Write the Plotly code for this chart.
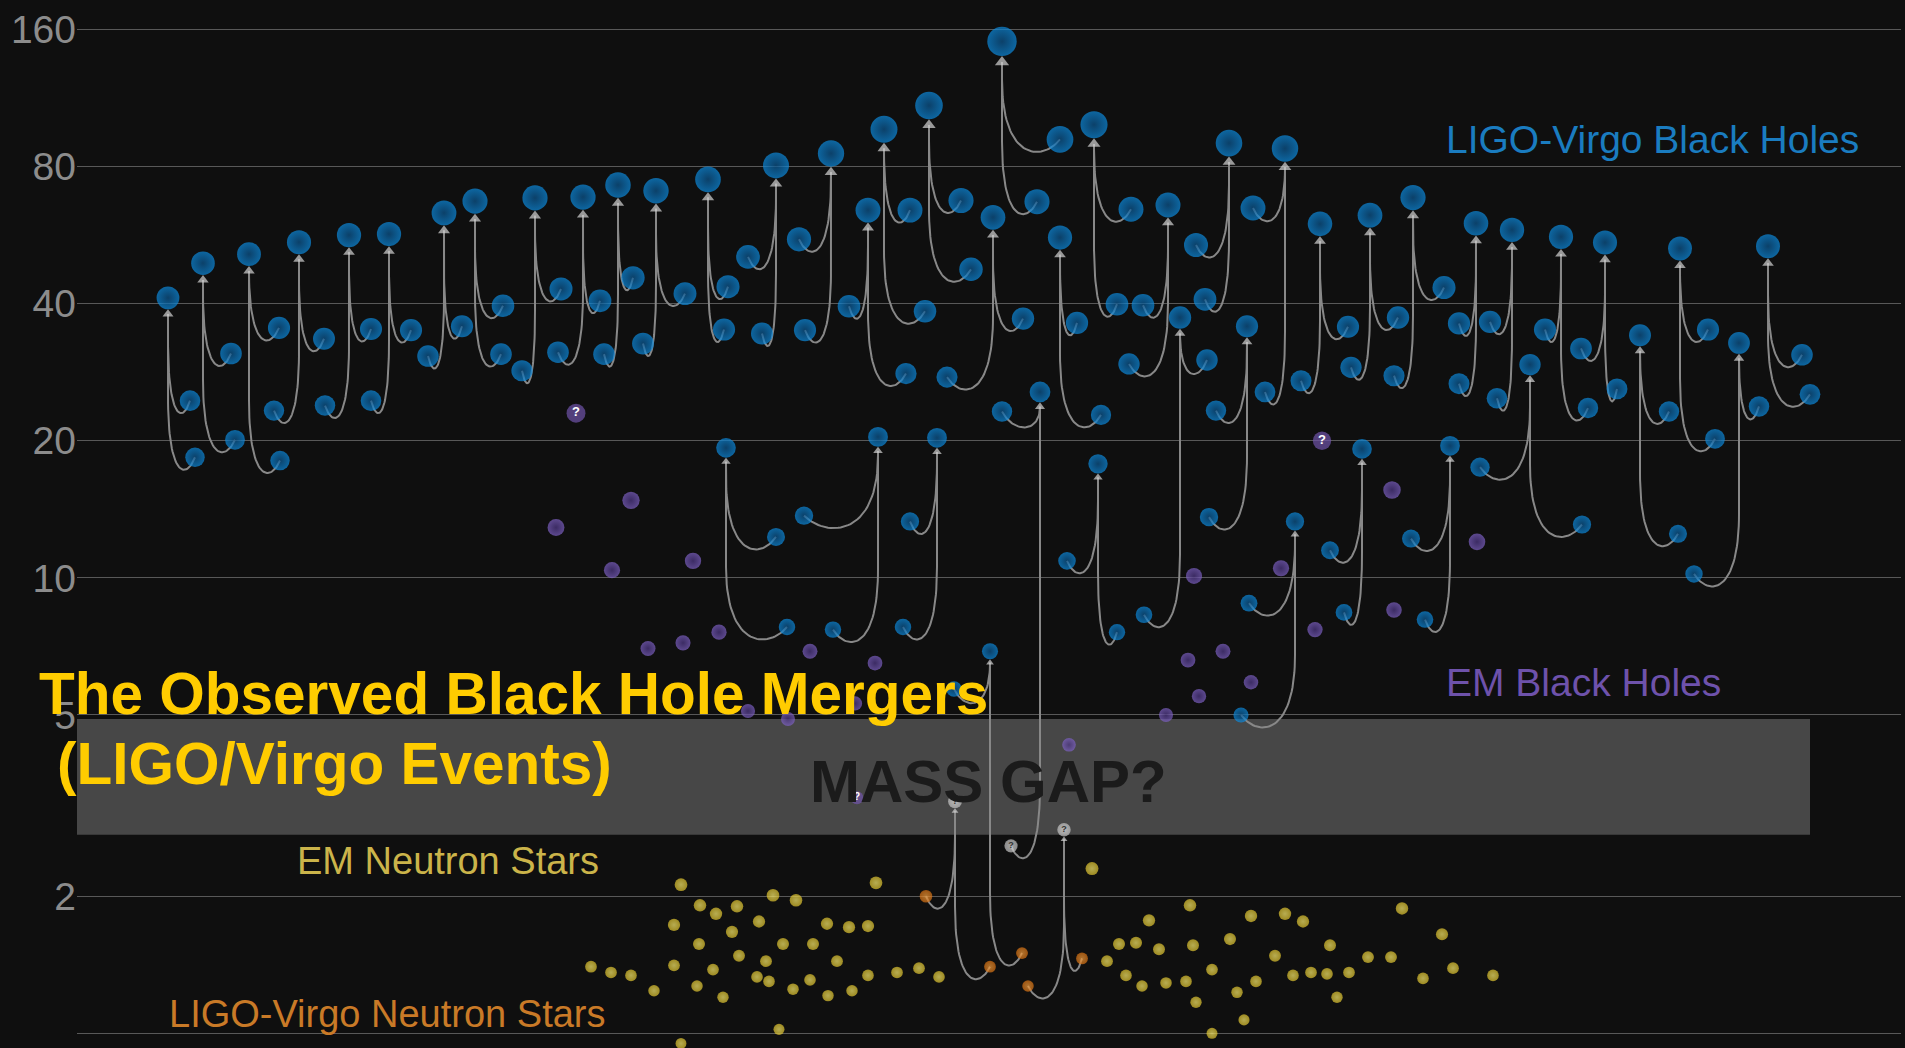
import numpy as np
import plotly.graph_objects as go

# ---------------- data (masses in solar masses; x = position slot along the row) ----------------
# LIGO-Virgo binary black hole mergers: remnant and two components
bbh_rem_x = [168, 203, 249, 299, 349, 389, 444, 475, 535, 583, 618, 656, 708, 776, 831, 868, 884, 929, 993, 1002,
             1060, 1094, 1168, 1180, 1229, 1247, 1285, 1320, 1370, 1413, 1476, 1512, 1561, 1605, 1680, 1768, 1530, 1640, 1739, 1362,
             1450, 1295, 1098, 878, 937, 726]
bbh_rem_m = [41.2, 49.1, 51.4, 54.6, 56.6, 56.9, 63.3, 67.2, 68.3, 68.6, 72.9, 70.8, 75.0, 80.5, 85.5, 64.2, 96.6, 109.0, 61.9, 150.7,
             55.9, 98.9, 65.9, 37.3, 90.1, 35.7, 87.7, 59.9, 62.6, 68.4, 60.1, 58.1, 56.1, 54.5, 52.9, 53.5, 29.4, 34.1, 32.8, 19.2,
             19.5, 13.3, 17.8, 20.4, 20.3, 19.3]
bbh_c1_x = [190, 231, 279, 324, 371, 411, 462, 503, 561, 600, 633, 685, 728, 748, 799, 849, 910, 961, 1023, 1060,
            1077, 1131, 1143, 1207, 1196, 1216, 1253, 1348, 1398, 1444, 1459, 1490, 1545, 1581, 1708, 1802, 1480, 1669, 1759, 1330,
            1411, 1249, 1067, 804, 910, 776]
bbh_c1_m = [24.5, 31.1, 35.4, 33.5, 35.2, 35.0, 35.7, 39.6, 43.1, 40.6, 45.6, 42.1, 43.6, 50.7, 55.4, 39.5, 64.2, 67.4, 37.1, 91.8,
            36.3, 64.5, 39.7, 30.1, 53.8, 23.3, 64.9, 35.6, 37.3, 43.4, 36.2, 36.5, 35.1, 31.9, 35.1, 30.9, 17.5, 23.2, 23.8, 11.5,
            12.2, 8.8, 10.9, 13.7, 13.3, 12.3]
bbh_c2_x = [195, 235, 280, 274, 325, 371, 428, 501, 522, 558, 604, 643, 724, 762, 805, 906, 925, 971, 947, 1037,
            1101, 1117, 1129, 1144, 1205, 1209, 1265, 1301, 1351, 1394, 1459, 1497, 1588, 1617, 1715, 1810, 1582, 1678, 1694, 1344,
            1425, 1241, 1117, 833, 903, 787]
bbh_c2_m = [18.4, 20.1, 18.1, 23.3, 23.9, 24.5, 30.7, 31.0, 28.5, 31.3, 31.0, 32.7, 35.1, 34.4, 35.0, 28.1, 38.5, 47.6, 27.6, 67.0,
            22.8, 39.9, 29.5, 8.3, 40.9, 13.6, 25.6, 27.1, 29.0, 27.8, 26.7, 24.8, 23.6, 26.0, 20.2, 25.3, 13.1, 12.5, 10.2, 8.4,
            8.1, 5.0, 7.6, 7.7, 7.8, 7.8]

# mergers of a black hole with a light (neutron star / mass-gap) companion
nsbh_rem_x = [1040, 990]
nsbh_rem_m = [25.6, 6.9]
nsbh_bh_x = [1002, 954]
nsbh_bh_m = [23.2, 5.7]
nsbh_lt_x = [1011, 1022]
nsbh_lt_m = [2.58, 1.5]
nsbh_lt_gap = [True, False]

# binary neutron star mergers (remnant of uncertain nature)
bns_rem_x = [955, 1064]
bns_rem_m = [3.23, 2.8]
bns_c1_x = [926, 1028]
bns_c1_m = [2.0, 1.27]
bns_c2_x = [990, 1082]
bns_c2_m = [1.40, 1.46]

# electromagnetically observed black holes
em_bh_x = [556, 631, 612, 693, 719, 683, 648, 810, 875, 748, 788, 855, 1069, 1194, 1188, 1223, 1251, 1199, 1166, 1392,
           1477, 1281, 1394, 1315]
em_bh_m = [12.9, 14.8, 10.4, 10.9, 7.6, 7.2, 7.0, 6.9, 6.5, 5.1, 4.9, 5.3, 4.3, 10.1, 6.6, 6.9, 5.9, 5.5, 5.0, 15.6,
           12.0, 10.5, 8.5, 7.7]
em_bh_q_x = [576, 857, 1322]
em_bh_q_m = [23.0, 3.29, 20.0]

# electromagnetically observed neutron stars
em_ns_x = [591, 611, 631, 654, 674, 674, 681, 681, 697, 699, 700, 713, 716, 723, 732, 737, 739, 757, 759, 766,
           769, 773, 779, 783, 793, 796, 810, 813, 827, 828, 837, 849, 852, 868, 868, 876, 897, 919, 939, 1092,
           1107, 1119, 1126, 1136, 1142, 1149, 1159, 1166, 1186, 1190, 1193, 1196, 1212, 1212, 1230, 1237, 1244, 1251, 1256, 1275,
           1285, 1293, 1303, 1311, 1327, 1330, 1337, 1349, 1368, 1391, 1402, 1423, 1442, 1453, 1493]
em_ns_m = [1.40, 1.36, 1.34, 1.24, 1.41, 1.73, 2.12, 0.95, 1.27, 1.57, 1.91, 1.38, 1.83, 1.20, 1.67, 1.90, 1.48, 1.33, 1.76, 1.44,
           1.30, 2.01, 1.02, 1.57, 1.25, 1.96, 1.31, 1.57, 1.74, 1.21, 1.44, 1.71, 1.24, 1.72, 1.34, 2.14, 1.36, 1.39, 1.33, 2.30,
           1.44, 1.57, 1.34, 1.58, 1.27, 1.77, 1.53, 1.29, 1.30, 1.91, 1.56, 1.17, 1.38, 1.00, 1.61, 1.23, 1.07, 1.81, 1.30, 1.48,
           1.83, 1.34, 1.76, 1.36, 1.35, 1.56, 1.20, 1.36, 1.47, 1.47, 1.88, 1.32, 1.65, 1.39, 1.34]

tick_vals = [1, 2, 5, 10, 20, 40, 80, 160]
tick_text = ["1", "2", "5", "10", "20", "40", "80", "160"]
gap_low, gap_high = 2.73, 4.9

# ---------------- layout geometry ----------------
W, H = 1905, 1048
ML, MR = 77, 4
X_RANGE = [77, 1901]
Y_RANGE = [-0.0323, 2.269]
PX = H / (Y_RANGE[1] - Y_RANGE[0]) * np.log10(2)   # pixels per doubling of mass

FONT = "Liberation Sans, Arial, Helvetica, sans-serif"
SIZE_K = 11.0


def msize(m, k=1.0):
    return list(k * SIZE_K * np.asarray(m, dtype=float) ** 0.196)


line_x, line_y = [], []
arrow_x, arrow_y, arrow_s = [], [], []


def add_merger(xr, mr, comps):
    sr = SIZE_K * mr ** 0.196
    a_s = max(6.0, 0.42 * sr)
    ya = np.log2(mr) * PX - (sr / 2 + 0.5 * a_s)
    arrow_x.append(xr)
    arrow_y.append(2 ** (ya / PX))
    arrow_s.append(a_s)
    t = np.linspace(0, 1, 40)
    for xc, mc in comps:
        yc = np.log2(mc) * PX
        top = min(ya, yc + 60)
        dx = xc - xr
        p = [(xc, yc), (xc - 0.3 * dx, yc - 22), (xr, yc - 22), (xr, top)]
        bx = ((1 - t) ** 3) * p[0][0] + 3 * ((1 - t) ** 2) * t * p[1][0] + 3 * (1 - t) * t ** 2 * p[2][0] + t ** 3 * p[3][0]
        by = ((1 - t) ** 3) * p[0][1] + 3 * ((1 - t) ** 2) * t * p[1][1] + 3 * (1 - t) * t ** 2 * p[2][1] + t ** 3 * p[3][1]
        xs = list(bx)
        ys = list(by)
        if top < ya:
            xs.append(xr)
            ys.append(ya)
        line_x.extend(xs + [None])
        line_y.extend([2 ** (v / PX) for v in ys] + [None])


for i in range(len(bbh_rem_x)):
    add_merger(bbh_rem_x[i], bbh_rem_m[i], [(bbh_c1_x[i], bbh_c1_m[i]), (bbh_c2_x[i], bbh_c2_m[i])])
for i in range(len(nsbh_rem_x)):
    add_merger(nsbh_rem_x[i], nsbh_rem_m[i], [(nsbh_bh_x[i], nsbh_bh_m[i]), (nsbh_lt_x[i], nsbh_lt_m[i])])
for i in range(len(bns_rem_x)):
    add_merger(bns_rem_x[i], bns_rem_m[i], [(bns_c1_x[i], bns_c1_m[i]), (bns_c2_x[i], bns_c2_m[i])])

fig = go.Figure()

fig.add_trace(go.Scatter(x=line_x, y=line_y, mode="lines",
                         line=dict(color="#888888", width=2), hoverinfo="skip"))
fig.add_trace(go.Scatter(x=arrow_x, y=arrow_y, mode="markers", hoverinfo="skip",
                         marker=dict(symbol="triangle-up", size=arrow_s, color="#d4d4d4", line=dict(width=0))))

# EM neutron stars (yellow)
fig.add_trace(go.Scatter(x=em_ns_x, y=em_ns_m, mode="markers", hoverinfo="skip",
                         marker=dict(size=msize(em_ns_m), color="#dcc02a", line=dict(width=0),
                                     gradient=dict(type="radial", color="#fff070"))))
# EM black holes (purple)
fig.add_trace(go.Scatter(x=em_bh_x, y=em_bh_m, mode="markers", hoverinfo="skip",
                         marker=dict(size=msize(em_bh_m, 0.93), color="#7f62c6", line=dict(width=0),
                                     gradient=dict(type="radial", color="#4f3888"))))
fig.add_trace(go.Scatter(x=em_bh_q_x, y=em_bh_q_m, mode="markers+text", hoverinfo="skip",
                         text=["<b>?</b>"] * len(em_bh_q_x), textposition="middle center",
                         textfont=dict(color="white", size=[13, 10, 13], family=FONT),
                         marker=dict(size=msize(em_bh_q_m, 0.93), color="#7054ab", line=dict(width=0))))

# LIGO-Virgo neutron stars (orange)
ns_x = bns_c1_x + bns_c2_x + [x for x, g in zip(nsbh_lt_x, nsbh_lt_gap) if not g]
ns_m = bns_c1_m + bns_c2_m + [m for m, g in zip(nsbh_lt_m, nsbh_lt_gap) if not g]
fig.add_trace(go.Scatter(x=ns_x, y=ns_m, mode="markers", hoverinfo="skip",
                         marker=dict(size=msize(ns_m), color="#d87010", line=dict(width=0),
                                     gradient=dict(type="radial", color="#f5a040"))))

# uncertain (mass gap) objects: grey question marks
q_x = bns_rem_x + [x for x, g in zip(nsbh_lt_x, nsbh_lt_gap) if g]
q_m = bns_rem_m + [m for m, g in zip(nsbh_lt_m, nsbh_lt_gap) if g]
fig.add_trace(go.Scatter(x=q_x, y=q_m, mode="markers+text", hoverinfo="skip",
                         text=["<b>?</b>"] * len(q_x), textposition="middle center",
                         textfont=dict(color="#333333", size=9, family=FONT),
                         marker=dict(size=msize(q_m), color="#c0c0c0", line=dict(width=0),
                                     gradient=dict(type="radial", color="#e8e8e8"))))

# LIGO-Virgo black holes (blue)
bh_c_x = bbh_c1_x + bbh_c2_x + nsbh_bh_x
bh_c_m = bbh_c1_m + bbh_c2_m + nsbh_bh_m
fig.add_trace(go.Scatter(x=bh_c_x, y=bh_c_m, mode="markers", hoverinfo="skip",
                         marker=dict(size=msize(bh_c_m), color="#0c8ce0", line=dict(width=0),
                                     gradient=dict(type="radial", color="#0a5690"))))
bh_r_x = bbh_rem_x + nsbh_rem_x
bh_r_m = bbh_rem_m + nsbh_rem_m
fig.add_trace(go.Scatter(x=bh_r_x, y=bh_r_m, mode="markers", hoverinfo="skip",
                         marker=dict(size=msize(bh_r_m), color="#0c8ce0", line=dict(width=0),
                                     gradient=dict(type="radial", color="#0a5690"))))


def px2paper(px, py):
    return (px - ML) / (W - ML - MR), 1 - py / H


def ann(text, px, py, size, color, xanchor="left"):
    xp, yp = px2paper(px, py)
    return dict(text=text, x=xp, y=yp, xref="paper", yref="paper", xanchor=xanchor, yanchor="middle",
                showarrow=False, font=dict(family=FONT, size=size, color=color))


annotations = [
    ann("LIGO-Virgo Black Holes", 1444, 139, 39, "#1a7cc0"),
    ann("EM Black Holes", 1444, 682, 39, "#6e52ab"),
    ann("EM Neutron Stars", 295, 861, 38, "#cbb44a"),
    ann("LIGO-Virgo Neutron Stars", 167, 1014, 38, "#c97a27"),
    ann("<b>MASS GAP?</b>", 988, 781, 60, "#1b1b1b", xanchor="center"),
    ann("<b>The Observed Black Hole Mergers</b>", 37, 693, 58.5, "#ffcc00"),
    ann("<b>(LIGO/Virgo Events)</b>", 55, 763, 58.5, "#ffcc00"),
]

fig.update_layout(
    width=W, height=H,
    margin=dict(l=ML, r=MR, t=0, b=0, pad=0),
    paper_bgcolor="#0f0f0f", plot_bgcolor="#0f0f0f",
    showlegend=False,
    xaxis=dict(range=X_RANGE, visible=False, fixedrange=True),
    yaxis=dict(type="log", range=Y_RANGE, tickvals=tick_vals, ticktext=tick_text,
               showgrid=True, gridcolor="#585858", gridwidth=1.3, zeroline=False, showline=False,
               ticks="", tickfont=dict(family=FONT, size=39, color="#8c8c8c"), fixedrange=True),
    shapes=[dict(type="rect", xref="x", yref="y", x0=77, x1=1810, y0=gap_low, y1=gap_high,
                 fillcolor="#474747", line=dict(width=0), layer="below")],
    annotations=annotations,
)

fig.write_html("out.html", config={"displayModeBar": False},
               post_script="document.body.style.margin='0';document.body.style.overflow='hidden';")
